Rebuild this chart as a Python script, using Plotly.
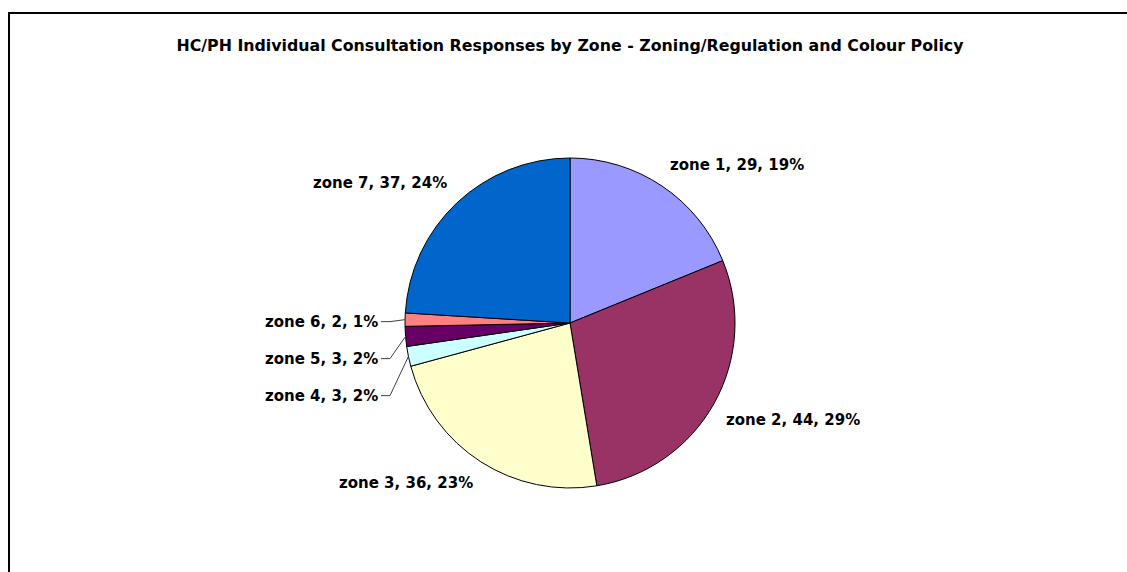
import math
import plotly.graph_objects as go

# zone responses
zones = ['zone 1', 'zone 2', 'zone 3', 'zone 4', 'zone 5', 'zone 6', 'zone 7']
responses = [29, 44, 36, 3, 3, 2, 37]
colours = ['#9999FF', '#993366', '#FFFFCC', '#CCFFFF', '#660066', '#FF8080', '#0066CC']

FW, FH = 1127, 572
cx, cy, r = 570, 323, 165   # pie centre / radius in pixels (from top-left)
FONT = 'DejaVu Sans'

def px(x):
    return x / FW

def py(y):
    return 1 - y / FH

fig = go.Figure(go.Pie(
    labels=zones,
    values=responses,
    sort=False,
    direction='clockwise',
    rotation=0,
    marker=dict(colors=colours, line=dict(color='black', width=1)),
    textinfo='none',
    showlegend=False,
    hoverinfo='label+value+percent',
    domain=dict(x=[px(cx - r), px(cx + r)], y=[py(cy + r), py(cy - r)]),
))

# data labels, Excel style: "name, value, percent"
total = sum(responses)
annotations = []
shapes = []
small = []
cum = 0
for name, v in zip(zones, responses):
    mid = (cum + v / 2) / total * 2 * math.pi
    cum += v
    txt = '<b>%s, %d, %d%%</b>' % (name, v, round(100 * v / total))
    sx, sy = math.sin(mid), math.cos(mid)
    if v / total < 0.03:
        small.append((cy - r * sy, cx + r * sx, txt))
        continue
    R = 1.07 * r
    annotations.append(dict(x=px(cx + R * sx), y=py(cy - R * sy), xref='paper', yref='paper',
                            text=txt, showarrow=False,
                            xanchor='left' if sx > 0 else 'right',
                            yanchor='bottom' if sy > 0 else 'top'))

# small slices: stack labels on the left, top to bottom, with leader lines
last_y = None
lx = cx - r - 25
for ey, ex, txt in sorted(small):
    ly = ey + 2 if last_y is None else max(last_y + 37, ey + 2)
    last_y = ly
    annotations.append(dict(x=px(lx), y=py(ly), xref='paper', yref='paper', text=txt,
                            showarrow=False, xanchor='right', yanchor='middle'))
    shapes.append(dict(type='path', xref='paper', yref='paper',
                       path='M %f,%f L %f,%f L %f,%f' % (px(lx + 1), py(ly), px(lx + 10), py(ly),
                                                         px(ex), py(ey)),
                       line=dict(color='#404040', width=1)))

fig.update_layout(
    width=FW, height=FH,
    margin=dict(l=0, r=0, t=0, b=0),
    paper_bgcolor='white',
    font=dict(family=FONT, size=15, color='black'),
    title=dict(text='<b>HC/PH Individual Consultation Responses by Zone - Zoning/Regulation and Colour Policy</b>',
               x=px(570), xanchor='center', y=py(45), yanchor='middle',
               font=dict(family=FONT, size=15.8, color='black')),
    annotations=annotations,
    shapes=shapes + [dict(type='rect', xref='paper', yref='paper',
                          x0=px(9), x1=1.02, y0=-0.02, y1=py(13),
                          line=dict(color='black', width=2))],
)

# drop the page's default body margin so the figure fills the window
fig.write_html("out.html", config={'displayModeBar': False},
               post_script="document.body.style.margin='0';")
